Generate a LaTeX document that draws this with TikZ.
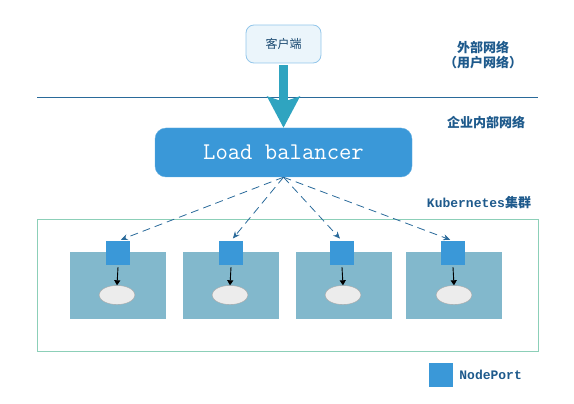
\documentclass[tikz,border=0pt]{standalone}
\usepackage{fontspec}
\newfontfamily\cjk{Noto Sans CJK SC}
\newfontfamily\lbfont{Latin Modern Mono}
\setmonofont{Liberation Mono}
\usepackage{tikz}
\usetikzlibrary{positioning,shapes,arrows.meta,calc}
\definecolor{KText}{RGB}{30, 90, 140}
\definecolor{KBlue}{RGB}{58, 152, 216}
\definecolor{KTeal}{RGB}{47, 164, 192}
\definecolor{KHost}{RGB}{130, 184, 204}
\definecolor{KLine}{RGB}{42, 106, 154}
\definecolor{KGreen}{RGB}{140, 207, 184}

\begin{document}
\begin{tikzpicture}[x=1pt, y=-1pt,
    zone/.style={font=\cjk\bfseries\fontsize{13}{15}\selectfont, text=KText, align=center},
    host/.style={rectangle, fill=KHost, inner sep=0pt, minimum width=96pt, minimum height=67pt},
    port/.style={rectangle, fill=KBlue, inner sep=0pt, minimum width=24pt, minimum height=24pt},
    pod/.style={ellipse, draw=gray!70, fill=gray!15, inner sep=0pt, minimum width=36pt, minimum height=19pt},
    route/.style={-{Stealth[length=7pt,width=6pt]}, dashed, dash pattern=on 8pt off 5pt, KLine, line width=0.8pt, shorten >=3pt},
    inner/.style={-{Triangle[length=5pt,width=6pt]}, black, line width=0.9pt}
]
    \useasboundingbox (0,0) rectangle (574,404);

    % Network zones
    \draw[KLine, line width=0.9pt] (37,97) -- (538,97);
    \node[zone] (outer) at (483,55) {外部网络\\（用户网络）};
    \node[zone] (intra) at (486,122) {企业内部网络};
    \node[zone] (kube) at (479,203) {\ttfamily\bfseries Kubernetes\cjk 集群};

    % Client and load balancer
    \node[rectangle, rounded corners=8pt, draw=KBlue!55, line width=0.8pt, fill=KBlue!10, minimum width=75pt, minimum height=38pt,
        font=\cjk\fontsize{12}{14}\selectfont, text=KText!80!black] (client) at (283.5,44) {客户端};
    \node[rectangle, rounded corners=11pt, draw=KBlue!80!white, fill=KBlue, minimum width=257pt, minimum height=49pt,
        font=\lbfont\fontsize{24}{26}\selectfont, text=white] (lb) at (283.5,152.5) {Load balancer};
    \draw[KTeal, line width=9pt, -{Stealth[length=31pt,width=32pt,inset=5pt]}, shorten <=2pt] (client.south) -- (lb.north);

    % Cluster
    \draw[KGreen, line width=0.9pt] (37,219) rectangle (538,351);
    \node[host] (host1) at (118,285.5) {};
    \node[host] (host2) at (231,285.5) {};
    \node[host] (host3) at (344,285.5) {};
    \node[host] (host4) at (454,285.5) {};
    \node[port] (port1) at (118,253) {};
    \node[port] (port2) at (231,253) {};
    \node[port] (port3) at (342,253) {};
    \node[port] (port4) at (453,253) {};
    \node[pod] (pod1) at (117,295) {};
    \node[pod] (pod2) at (230,295) {};
    \node[pod] (pod3) at (343,295) {};
    \node[pod] (pod4) at (454,295) {};

    % Arrows
    \draw[route] (lb.south) -- (port1.north);
    \draw[route] (lb.south) -- (port2.north);
    \draw[route] (lb.south) -- (port3.north);
    \draw[route] (lb.south) -- (port4.north);
    \draw[inner] (port1.south) ++(0,2) -- (pod1.north);
    \draw[inner] (port2.south) ++(0,2) -- (pod2.north);
    \draw[inner] (port3.south) ++(0,2) -- (pod3.north);
    \draw[inner] (port4.south) ++(0,2) -- (pod4.north);

    % Legend
    \node[port] (key) at (441,375) {};
    \node[right=6pt of key, inner sep=0pt, font=\ttfamily\bfseries\fontsize{13}{15}\selectfont, text=KText] (keytext) {NodePort};
\end{tikzpicture}
\end{document}
